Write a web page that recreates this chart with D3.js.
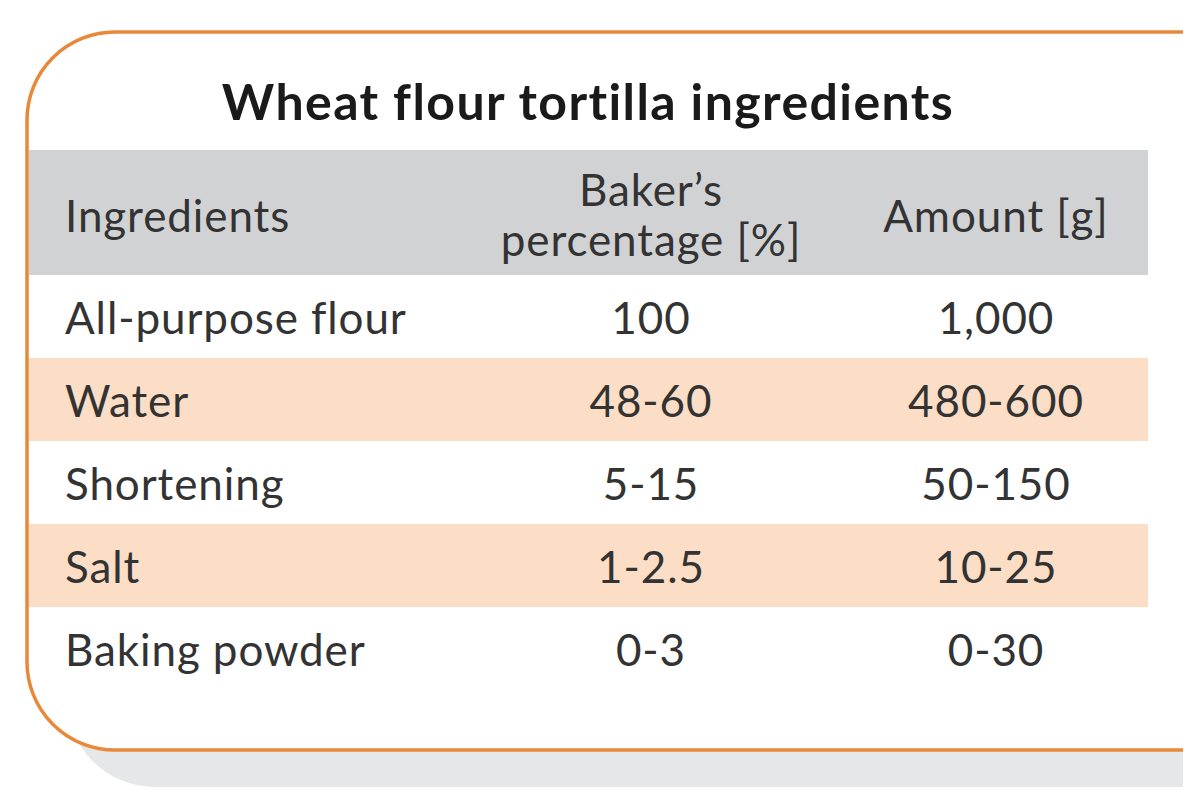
<!DOCTYPE html>
<html>
<head>
<meta charset="utf-8">
<script src="https://cdn.jsdelivr.net/npm/d3@7"></script>
<style>
  body { margin: 0; background: #fff; }
  text { font-family: Lato, "Noto Sans", sans-serif; fill: #333; }
</style>
</head>
<body>
<div id="chart"></div>
<script>
// table data
var title = "Wheat flour tortilla ingredients";
var headers = ["Ingredients", "Baker\u2019s\npercentage [%]", "Amount [g]"];
var ingredients = ["All-purpose flour", "Water", "Shortening", "Salt", "Baking powder"];
var bakersPct = ["100", "48-60", "5-15", "1-2.5", "0-3"];
var amounts = ["1,000", "480-600", "50-150", "10-25", "0-30"];

var svgWidth = 1200;
var svgHeight = 800;

var svg = d3.select("#chart")
  .append("svg")
  .attr("width", svgWidth)
  .attr("height", svgHeight);

// box edges
var boxLeft = 27, boxTop = 32, boxRight = 1183, boxBottom = 750, r = 88;

// rounded box outline, open on the right (cropped)
function boxPath(x0, y0, x1, y1, rad) {
  var p = d3.path();
  p.moveTo(x1, y0);
  p.lineTo(x0 + rad, y0);
  p.arcTo(x0, y0, x0, y0 + rad, rad);
  p.lineTo(x0, y1 - rad);
  p.arcTo(x0, y1, x0 + rad, y1, rad);
  p.lineTo(x1, y1);
  return p.toString();
}

// shadow
svg.append("path")
  .attr("d", boxPath(boxLeft + 40, boxTop + 37, boxRight, boxBottom + 37, r) + "Z")
  .attr("fill", "#e6e7e8");

// white card
svg.append("path")
  .attr("d", boxPath(boxLeft, boxTop, boxRight, boxBottom, r) + "Z")
  .attr("fill", "#fff");

// title
svg.append("text")
  .attr("x", 588)
  .attr("y", 120)
  .attr("text-anchor", "middle")
  .style("font-size", "50px")
  .style("letter-spacing", "1.4px")
  .style("font-weight", "bold")
  .style("fill", "#1a1a1a")
  .text(title);

// row scale
var bandLeft = 29, bandRight = 1148;
var rowTop = 275, rowH = 83;
var y = d3.scaleBand()
  .domain(ingredients)
  .range([rowTop, rowTop + rowH * ingredients.length])
  .padding(0);

var colX = [65, 651, 996];
var colAnchor = ["start", "middle", "middle"];

// header band
svg.append("rect")
  .attr("x", bandLeft)
  .attr("y", 150)
  .attr("width", bandRight - bandLeft)
  .attr("height", rowTop - 150)
  .attr("fill", "#d1d2d4");

// striped rows
svg.selectAll("rect.row")
  .data(ingredients)
  .enter()
  .append("rect")
  .attr("class", "row")
  .attr("x", bandLeft)
  .attr("y", d => y(d))
  .attr("width", bandRight - bandLeft)
  .attr("height", y.bandwidth())
  .attr("fill", (d, i) => i % 2 === 1 ? "#fcdec6" : "none");

// header text
headers.forEach(function (h, i) {
  var lines = h.split("\n");
  var t = svg.append("text")
    .attr("x", colX[i])
    .attr("text-anchor", colAnchor[i])
    .style("font-size", "44px")
    .style("letter-spacing", "0.9px");
  lines.forEach(function (line, j) {
    t.append("tspan")
      .attr("x", colX[i])
      .attr("y", lines.length === 1 ? 232 : 206 + j * 50)
      .text(line);
  });
});

// cell text
var columns = [ingredients, bakersPct, amounts];
columns.forEach(function (col, i) {
  svg.selectAll("text.col" + i)
    .data(col)
    .enter()
    .append("text")
    .attr("class", "col" + i)
    .attr("x", colX[i])
    .attr("y", (d, k) => y(ingredients[k]) + y.bandwidth() / 2 + 17)
    .attr("text-anchor", colAnchor[i])
    .style("font-size", "44px")
    .style("letter-spacing", "0.9px")
    .text(d => d);
});

// orange border on top
svg.append("path")
  .attr("d", boxPath(boxLeft, boxTop, boxRight, boxBottom, r))
  .attr("fill", "none")
  .attr("stroke", "#e8893a")
  .attr("stroke-width", 3.5);
</script>
</body>
</html>
